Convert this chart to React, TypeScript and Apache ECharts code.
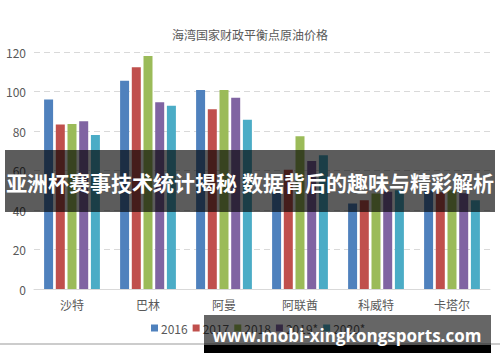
import React, { useEffect, useRef } from "react";
import * as echarts from "echarts";

const categories = ["沙特", "巴林", "阿曼", "阿联酋", "科威特", "卡塔尔"];
const seriesNames = ["2016", "2017", "2018", "2019*", "2020*"];
const v2016 = [96, 105.5, 100.8, 49, 43.3, 50];
const v2017 = [83.3, 112.3, 91, 60.4, 45, 49];
const v2018 = [83.5, 118, 100.8, 77.4, 48.3, 50];
const v2019 = [85, 94.6, 96.8, 64.8, 49.2, 48.5];
const v2020 = [78, 92.8, 85.7, 67.7, 50, 45];
const colors = ["#4f81bd", "#c0504d", "#9bbb59", "#8064a2", "#4bacc6"];
const yTicks = [0, 20, 40, 60, 80, 100, 120];

const title = "海湾国家财政平衡点原油价格";
const bannerText = "亚洲杯赛事技术统计揭秘 数据背后的趣味与精彩解析";
const watermark = "www.mobi-xingkongsports.com";

export default function App() {
  const ref = useRef<HTMLDivElement>(null);
  useEffect(() => {
    if (!ref.current) return;
    const chart = echarts.init(ref.current, null, { renderer: "svg" });
    const font = "'Noto Sans CJK SC', 'Noto Sans', sans-serif";
    const all = [v2016, v2017, v2018, v2019, v2020];
    chart.setOption({
      animation: false,
      textStyle: { fontFamily: font },
      title: {
        text: title,
        left: "center",
        top: 23,
        textStyle: { fontSize: 12, fontWeight: "normal", color: "#595959", fontFamily: font },
      },
      legend: {
        data: seriesNames,
        top: 317,
        left: 146,
        itemWidth: 7,
        itemHeight: 7,
        itemGap: 5,
        icon: "rect",
        textStyle: { fontSize: 12, color: "#595959", fontFamily: font, padding: [0, 0, 0, -2] },
      },
      grid: { left: 34, right: 10, top: 52, bottom: 73 },
      xAxis: {
        type: "category",
        data: categories,
        axisLine: { lineStyle: { color: "#d9d9d9" } },
        axisTick: { show: false },
        axisLabel: { fontSize: 12, color: "#595959", margin: 9, fontFamily: font },
      },
      yAxis: {
        type: "value",
        min: yTicks[0],
        max: yTicks[yTicks.length - 1],
        interval: 20,
        axisLine: { show: false },
        axisTick: { show: false },
        axisLabel: { fontSize: 12, color: "#595959", margin: 8, fontFamily: font },
        splitLine: { lineStyle: { color: "#d9d9d9", type: [6, 4] } },
      },
      series: seriesNames.map((n, i) => ({
        name: n,
        type: "bar",
        data: all[i],
        barWidth: 9,
        barGap: "30%",
        itemStyle: { color: colors[i] },
      })),
      graphic: [
        {
          type: "line",
          z: 100,
          shape: { x1: 0, y1: 344, x2: 500, y2: 344 },
          style: { stroke: "#999999", lineWidth: 1 },
        },
        {
          type: "rect",
          z: 100,
          shape: { x: 5, y: 150, width: 490, height: 62 },
          style: { fill: "rgba(0,0,0,0.64)" },
        },
        {
          type: "text",
          z: 101,
          x: 250,
          y: 182,
          style: {
            text: bannerText,
            fill: "#ffffff",
            fontSize: 21,
            fontWeight: "bold",
            fontFamily: font,
            align: "center",
            verticalAlign: "middle",
          },
        },
        {
          type: "rect",
          z: 100,
          shape: { x: 204, y: 315, width: 287, height: 30 },
          style: { fill: "rgba(0,0,0,0.6)" },
        },
        {
          type: "rect",
          z: 100,
          shape: { x: 204, y: 345, width: 287, height: 8 },
          style: { fill: "#000000" },
        },
        {
          type: "text",
          z: 101,
          x: 347,
          y: 335,
          style: {
            text: watermark,
            fill: "#ffffff",
            fontSize: 17,
            fontWeight: "bold",
            fontFamily: "'Open Sans', 'DejaVu Sans', sans-serif",
            align: "center",
            verticalAlign: "middle",
          },
        },
      ],
    });
    return () => chart.dispose();
  }, []);
  return (
    <div
      ref={ref}
      style={{ position: "fixed", left: 0, top: 0, width: 500, height: 362, background: "#ffffff" }}
    />
  );
}
